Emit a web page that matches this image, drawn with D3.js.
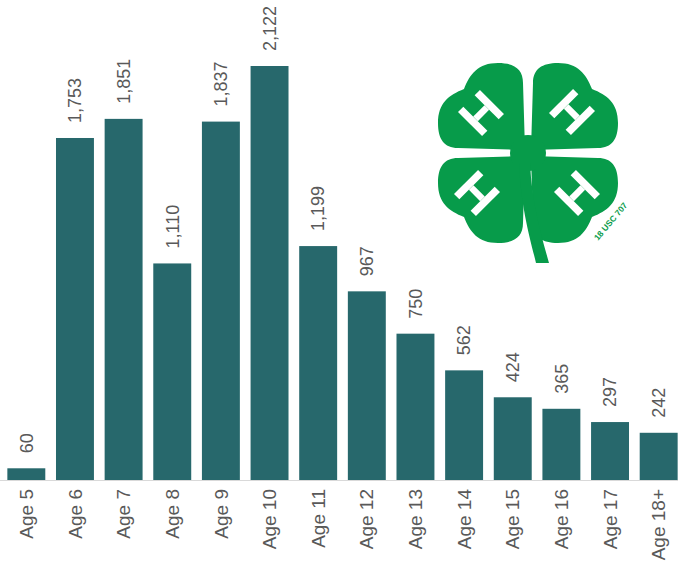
<!DOCTYPE html>
<html>
<head>
<meta charset="utf-8">
<script src="https://cdn.jsdelivr.net/npm/d3@7"></script>
<style>
  body { margin: 0; background: #fff; }
  text { font-family: "Liberation Sans", Arial, sans-serif; fill: #595959; }
</style>
</head>
<body>
<script>
var ages = ["Age 5","Age 6","Age 7","Age 8","Age 9","Age 10","Age 11","Age 12","Age 13","Age 14","Age 15","Age 16","Age 17","Age 18+"];
var counts = [60,1753,1851,1110,1837,2122,1199,967,750,562,424,365,297,242];

var width = 678, height = 563;
var baseY = 480;

var svg = d3.select("body").append("svg").attr("width", width).attr("height", height);

// Scales
var x = d3.scaleBand()
            .domain(ages)
            .range([2, 683])
            .paddingInner(0.22)
            .paddingOuter(0.11);

var y = d3.scaleLinear()
            .domain([0, d3.max(counts)])
            .range([baseY, 66]);

var fmt = d3.format(",");

// bars
svg.selectAll("rect.bar").data(counts).enter().append("rect")
    .attr("class","bar")
    .attr("x", function(d,i){return x(ages[i]);})
    .attr("y", function(d){return y(d);})
    .attr("width", x.bandwidth())
    .attr("height", function(d){return baseY - y(d);})
    .attr("fill", "#27686c");

// baseline
svg.append("line")
    .attr("x1", 0).attr("x2", width)
    .attr("y1", baseY + 0.5).attr("y2", baseY + 0.5)
    .attr("stroke", "#d9d9d9");

// value labels
svg.selectAll("text.val").data(counts).enter().append("text")
    .attr("class","val")
    .attr("transform", function(d,i){
        return "translate(" + (x(ages[i]) + x.bandwidth()/2) + "," + (y(d) - 15) + ") rotate(-90)";
    })
    .attr("dy","0.35em")
    .style("font-size","18px")
    .text(function(d){return fmt(d);});

// category labels
svg.selectAll("text.cat").data(ages).enter().append("text")
    .attr("class","cat")
    .attr("transform", function(d){
        return "translate(" + (x(d) + x.bandwidth()/2) + "," + (baseY + 9) + ") rotate(-90)";
    })
    .attr("dy","0.35em")
    .attr("text-anchor","end")
    .style("font-size","19px")
    .text(function(d){return d;});

// 4-H clover
var green = "#079b4a";
var logo = svg.append("g").attr("transform","translate(528,153)");
// one leaf, tip at the centre, two lobes and a notch at the outer corner
var leaf = "M3,3 L70,5 C84,5 90,14 90,30 C90,50 79,58 64,64 " +
           "C58,79 50,90 30,90 C14,90 5,84 5,70 Z";

[0, 90, 180, 270].forEach(function(a){
    logo.append("path").attr("d", leaf).attr("fill", green)
        .attr("transform","rotate(" + a + ")");
});
logo.append("circle").attr("r", 18).attr("fill", green);

// stem
logo.append("path")
    .attr("d","M-9,10 C-7,55 2,85 8,110 L21,110 C12,78 4,50 2,10 Z")
    .attr("fill", green);

// the H letters
function drawH(cx, cy, ang){
    var h = logo.append("g").attr("transform","translate(" + (cx-528) + "," + (cy-153) + ") rotate(" + ang + ")");
    h.append("rect").attr("x",-15.5).attr("y",-17).attr("width",7.5).attr("height",34).attr("fill","#fff");
    h.append("rect").attr("x",8).attr("y",-17).attr("width",7.5).attr("height",34).attr("fill","#fff");
    h.append("rect").attr("x",-8).attr("y",-3).attr("width",16).attr("height",6.5).attr("fill","#fff");
}
drawH(481,113,-45);
drawH(572,112,45);
drawH(477,193,45);
drawH(577,193,-45);

svg.append("text")
    .attr("transform","translate(598,241) rotate(-50)")
    .style("font-size","8.5px")
    .style("font-weight","bold")
    .style("fill", green)
    .text("18 USC 707");
</script>
</body>
</html>
